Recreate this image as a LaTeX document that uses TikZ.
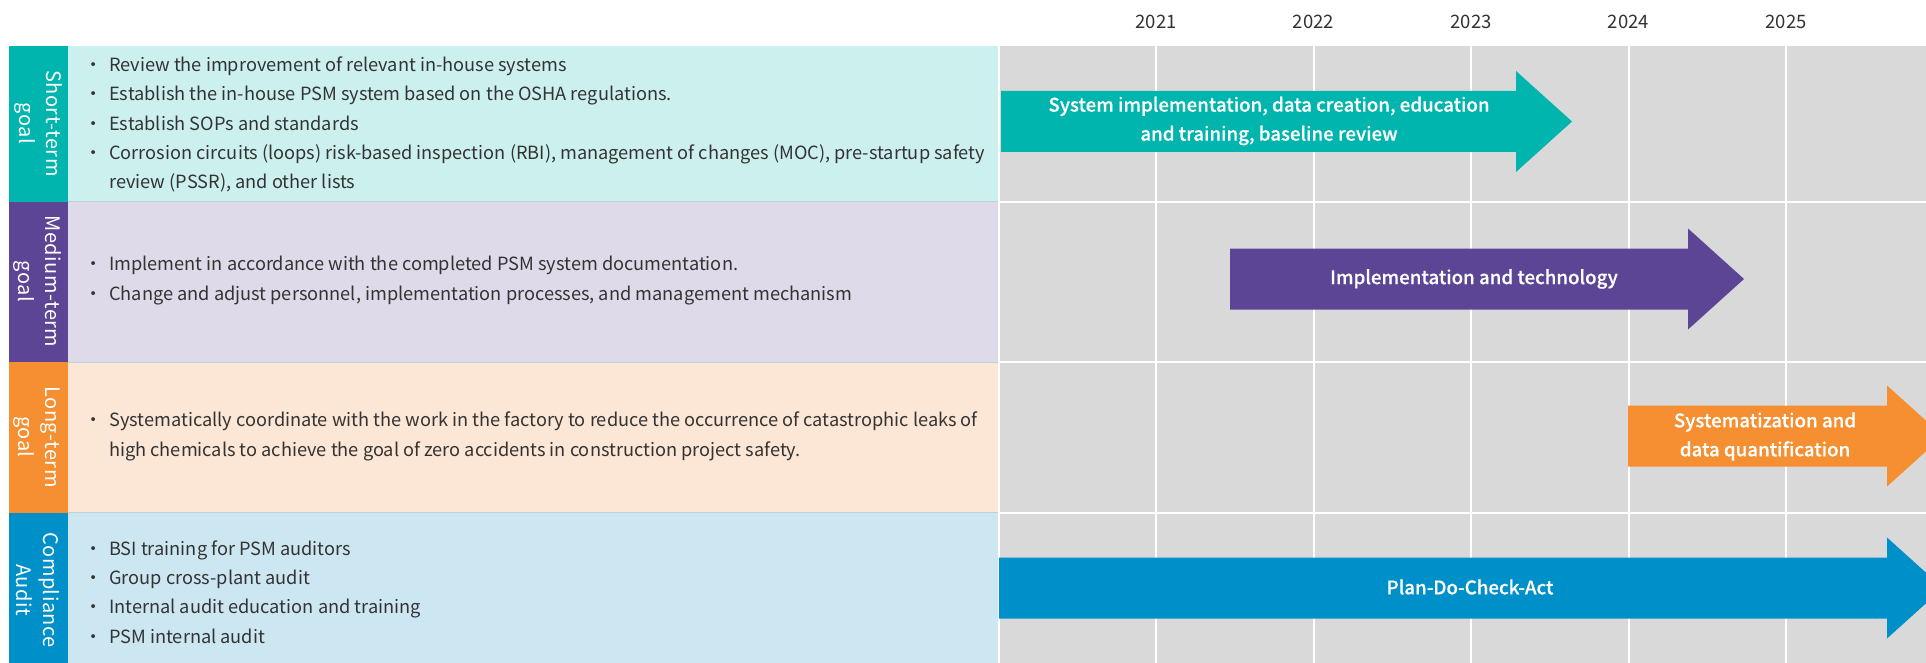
\documentclass[tikz,border=0pt]{standalone}
\usepackage{fontspec}
\setmainfont{Noto Sans CJK TC}
\newfontfamily\barfont{Noto Sans CJK TC Medium}[FakeBold=0.4]
\newfontfamily\labelfont{Noto Sans CJK TC}[LetterSpace=2.5]

\definecolor{shortc}{HTML}{00B5AD}
\definecolor{shortbg}{HTML}{CCF0EE}
\definecolor{medc}{HTML}{5B4594}
\definecolor{medbg}{HTML}{DEDAE9}
\definecolor{longc}{HTML}{F58F31}
\definecolor{longbg}{HTML}{FCE6D5}
\definecolor{auditc}{HTML}{0090C9}
\definecolor{auditbg}{HTML}{CCE7F2}
\definecolor{gridbg}{HTML}{D9D9D9}
\definecolor{txt}{HTML}{333333}
\definecolor{rowline}{HTML}{BFD0D6}

% bullet for the goal lists
\newcommand{\itm}{\makebox[24.4pt][l]{·}}
% fat arrow: colour, start x, head base x, centre y
\newcommand{\planarrow}[4]{%
  \fill[#1] (#2,#4-30.5) -- (#3,#4-30.5) -- (#3,#4-50.5) -- (#3+56,#4)
    -- (#3,#4+50.5) -- (#3,#4+30.5) -- (#2,#4+30.5) -- cycle;}

\begin{document}
\begin{tikzpicture}[x=1pt, y=-1pt,
    year/.style={text=txt, font=\fontsize{18.5}{23}\selectfont},
    goal/.style={text=white, rotate=-90, align=center, font=\labelfont\fontsize{20}{27}\selectfont},
    items/.style={text=txt, anchor=west, align=left, inner sep=0, font=\fontsize{18.2}{29.2}\selectfont},
    bartext/.style={text=white, align=center, font=\barfont\fontsize{18.7}{29}\selectfont},
    gridline/.style={white, line width=2pt}]
    \useasboundingbox (0,0) rectangle (1926,663);
    \clip (0,0) rectangle (1926,663);

    % Rows
    \fill[shortc] (9,46) rectangle (68,201.5);
    \fill[medc] (9,201.5) rectangle (68,362);
    \fill[longc] (9,362) rectangle (68,512.5);
    \fill[auditc] (9,512.5) rectangle (68,663);
    \fill[shortbg] (68,46) rectangle (998,201.5);
    \fill[medbg] (68,201.5) rectangle (998,362);
    \fill[longbg] (68,362) rectangle (998,512.5);
    \fill[auditbg] (68,512.5) rectangle (998,663);
    \draw[rowline, line width=1pt] (68,201.5) -- (998,201.5);
    \draw[rowline, line width=1pt] (68,362) -- (998,362);
    \draw[rowline, line width=1pt] (68,512.5) -- (998,512.5);

    % Timeline grid
    \fill[gridbg] (1000,46) rectangle (1926,663);
    \draw[gridline] (1156,46) -- (1156,663);
    \draw[gridline] (1313.5,46) -- (1313.5,663);
    \draw[gridline] (1471,46) -- (1471,663);
    \draw[gridline] (1628.5,46) -- (1628.5,663);
    \draw[gridline] (1786,46) -- (1786,663);
    \draw[gridline] (1000,201.5) -- (1926,201.5);
    \draw[gridline] (1000,362) -- (1926,362);
    \draw[gridline] (1000,512.5) -- (1926,512.5);

    % Years
    \node[year] (y2021) at (1156,21.5) {2021};
    \node[year] (y2022) at (1313.5,21.5) {2022};
    \node[year] (y2023) at (1471,21.5) {2023};
    \node[year] (y2024) at (1628.5,21.5) {2024};
    \node[year] (y2025) at (1786,21.5) {2025};

    % Goal labels
    \node[goal] (short) at (38,123.5) {Short-term\\goal};
    \node[goal] (medium) at (37,281.5) {Medium-term\\goal};
    \node[goal] (long) at (37,437) {Long-term\\goal};
    \node[goal] (audit) at (38,590) {Compliance\\Audit};

    % Goal lists
    \node[items] (shortlist) at (84.6,124.5) {\itm Review the improvement of relevant in-house systems\\
        \itm Establish the in-house PSM system based on the OSHA regulations.\\
        \itm Establish SOPs and standards\\
        \itm Corrosion circuits (loops) risk-based inspection (RBI), management of changes (MOC), pre-startup safety\\
        \hspace*{24.4pt}review (PSSR), and other lists};
    \node[items] (mediumlist) at (84.6,280.5) {\itm Implement in accordance with the completed PSM system documentation.\\
        \itm Change and adjust personnel, implementation processes, and management mechanism};
    \node[items] (longlist) at (84.6,436.5) {\itm Systematically coordinate with the work in the factory to reduce the occurrence of catastrophic leaks of\\
        \hspace*{24.4pt}high chemicals to achieve the goal of zero accidents in construction project safety.};
    \node[items] (auditlist) at (84.6,592) {\itm BSI training for PSM auditors\\
        \itm Group cross-plant audit\\
        \itm Internal audit education and training\\
        \itm PSM internal audit};

    % Arrows
    \planarrow{shortc}{1001}{1516}{121.5}
    \planarrow{medc}{1230}{1688}{279}
    \planarrow{longc}{1628}{1887}{436}
    \planarrow{auditc}{999}{1887}{588}
    \node[bartext] (shortbar) at (1269,121) {System implementation, data creation, education\\and training, baseline review};
    \node[bartext] (mediumbar) at (1474,279) {Implementation and technology};
    \node[bartext] (longbar) at (1765,436.5) {Systematization and\\data quantification};
    \node[bartext] (auditbar) at (1470,587) {Plan-Do-Check-Act};
\end{tikzpicture}
\end{document}
